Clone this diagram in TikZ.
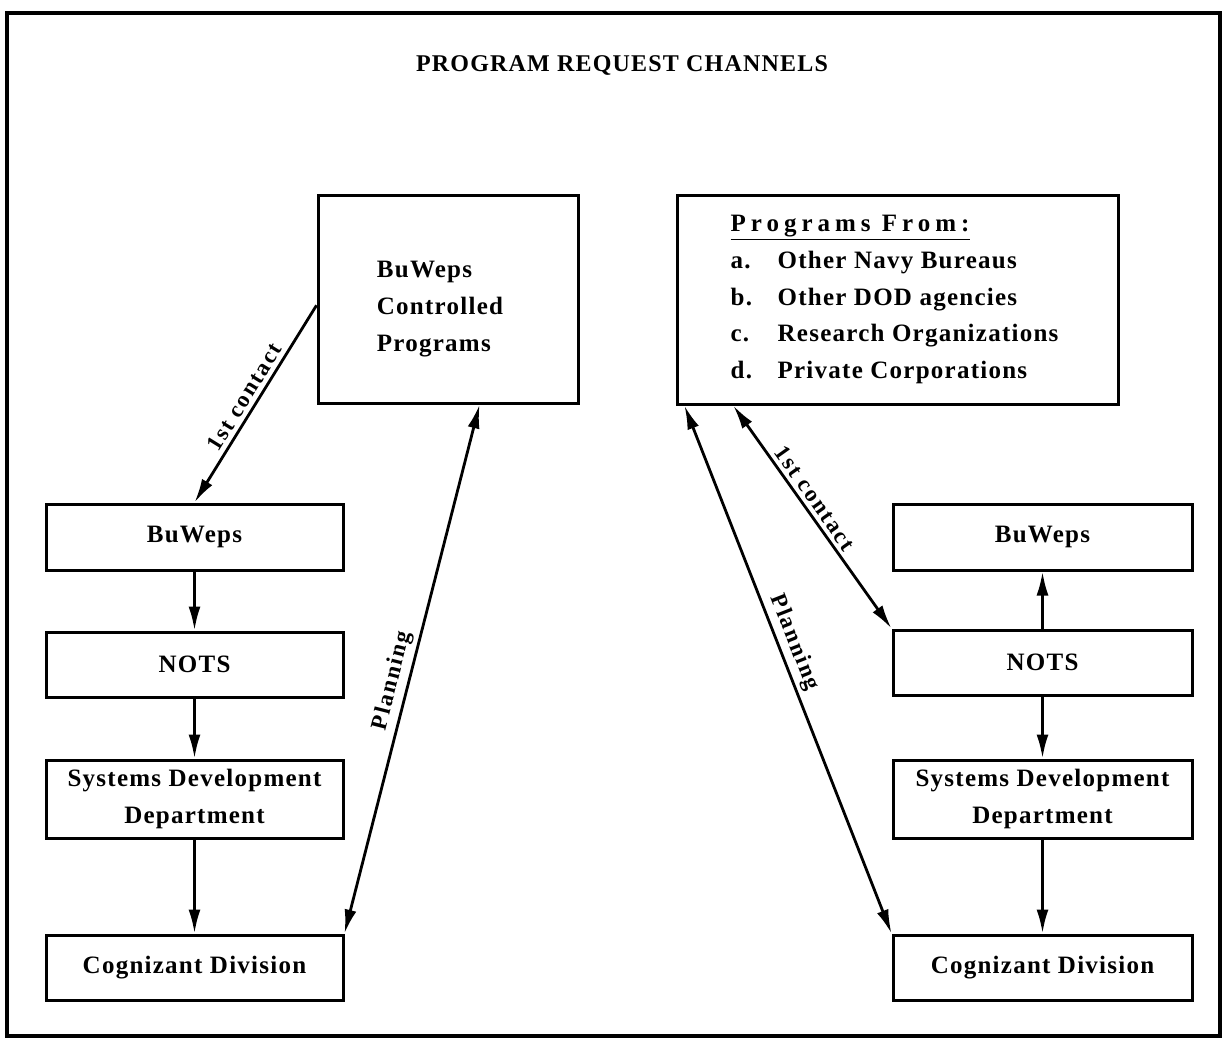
\documentclass[tikz,border=0pt]{standalone}
\usepackage{fontspec}
\setmainfont{Liberation Serif}[LetterSpace=5]
\usetikzlibrary{arrows.meta,calc}
\begin{document}
\begin{tikzpicture}[x=1pt,y=-1pt,
  box/.style={draw,line width=3pt,rectangle,inner sep=0pt,font=\bfseries\fontsize{25}{36.6}\selectfont},
  arr/.style={line width=2.8pt,-{Latex[length=24pt,width=12pt]}},
  darr/.style={line width=2.8pt,{Latex[length=24pt,width=12pt]}-{Latex[length=24pt,width=12pt]}},
  lbl/.style={font=\bfseries\fontsize{23}{23}\selectfont\addfontfeature{LetterSpace=8},inner sep=4pt}]
\useasboundingbox (0,0) rectangle (1223,1042);
\draw[line width=3.2pt] (7,13) rectangle (1220,1036);
\node[font=\bfseries\fontsize{24}{24}\selectfont] (title) at (622,65) {PROGRAM REQUEST CHANNELS};
% top boxes
\node[box,minimum width=260pt,minimum height=208pt,align=left] (BCP) at (448,299)
  {\rule{0pt}{10pt}\\[-10pt]\hspace*{-16pt}BuWeps\\\hspace*{-16pt}Controlled\\\hspace*{-16pt}Programs};
\node[box,minimum width=441pt,minimum height=209pt,align=left] (PF) at (897.5,299.5)
  {\hspace*{-6pt}\underline{\addfontfeature{LetterSpace=20}Programs From:}\\
   \hspace*{-6pt}\makebox[47pt][l]{a.}Other Navy Bureaus\\
   \hspace*{-6pt}\makebox[47pt][l]{b.}Other DOD agencies\\
   \hspace*{-6pt}\makebox[47pt][l]{c.}Research Organizations\\
   \hspace*{-6pt}\makebox[47pt][l]{d.}Private Corporations};
% left column
\node[box,minimum width=297pt,minimum height=66pt] (LB) at (194.5,537) {BuWeps};
\node[box,minimum width=297pt,minimum height=65pt] (LN) at (194.5,664.5) {NOTS};
\node[box,minimum width=297pt,minimum height=78pt,align=center] (LS) at (194.5,799) {Systems Development\\Department};
\node[box,minimum width=297pt,minimum height=65pt] (LC) at (194.5,967.5) {Cognizant Division};
% right column
\node[box,minimum width=299pt,minimum height=66pt] (RB) at (1042.5,537) {BuWeps};
\node[box,minimum width=299pt,minimum height=65pt] (RN) at (1042.5,662.5) {NOTS};
\node[box,minimum width=299pt,minimum height=78pt,align=center] (RS) at (1042.5,799) {Systems Development\\Department};
\node[box,minimum width=299pt,minimum height=65pt] (RC) at (1042.5,967.5) {Cognizant Division};
% anchor points
\coordinate (bcpL) at ($(BCP.north west)!0.53!(BCP.south west)$);
\coordinate (bcpP) at ($(BCP.south west)!0.62!(BCP.south east)$);
\coordinate (pf1) at ($(PF.south west)!0.13!(PF.south east)$);
\coordinate (pfP) at ($(PF.south west)!0.02!(PF.south east)$);
% left connectors
\draw[arr] (bcpL) -- node[lbl,sloped,above,pos=0.5] {1st contact} (LB.north);
\draw[darr] (LC.north east) -- node[lbl,sloped,above,pos=0.47] {Planning} (bcpP);
\draw[arr] (LB) -- (LN);
\draw[arr] (LN) -- (LS);
\draw[arr] (LS) -- (LC);
% right connectors
\draw[darr] (pf1) -- node[lbl,sloped,above,pos=0.45] {1st contact} (RN.north west);
\draw[darr] (pfP) -- node[lbl,sloped,above,pos=0.46] {Planning} (RC.north west);
\draw[arr] (RN) -- (RB);
\draw[arr] (RN) -- (RS);
\draw[arr] (RS) -- (RC);
\end{tikzpicture}
\end{document}
